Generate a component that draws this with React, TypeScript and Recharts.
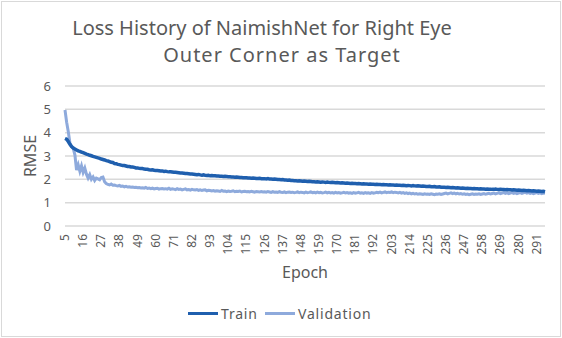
import React from 'react';
import { LineChart, Line, XAxis, YAxis, CartesianGrid } from 'recharts';

document.body.style.margin = '0';

const firstEpoch = 5;
const lastEpoch = 296;
const epochs: number[] = Array.from({ length: lastEpoch - firstEpoch + 1 }, (_, i) => firstEpoch + i);

const trainRmse: number[] = [
  3.75, 3.72, 3.62, 3.50, 3.40, 3.34, 3.30, 3.26, 3.22, 3.20,
  3.17, 3.14, 3.11, 3.08, 3.06, 3.03, 3.01, 2.98, 2.96, 2.94,
  2.92, 2.90, 2.87, 2.85, 2.83, 2.80, 2.79, 2.76, 2.73, 2.72,
  2.68, 2.67, 2.64, 2.63, 2.61, 2.59, 2.59, 2.57, 2.55, 2.55,
  2.53, 2.53, 2.51, 2.49, 2.49, 2.47, 2.46, 2.46, 2.44, 2.43,
  2.43, 2.41, 2.40, 2.41, 2.39, 2.38, 2.38, 2.37, 2.36, 2.36,
  2.34, 2.35, 2.33, 2.32, 2.32, 2.31, 2.30, 2.30, 2.29, 2.28,
  2.27, 2.27, 2.26, 2.25, 2.25, 2.24, 2.23, 2.23, 2.22, 2.21,
  2.20, 2.21, 2.19, 2.18, 2.19, 2.17, 2.16, 2.17, 2.15, 2.16,
  2.15, 2.15, 2.14, 2.14, 2.13, 2.13, 2.12, 2.13, 2.12, 2.11,
  2.11, 2.10, 2.10, 2.09, 2.10, 2.09, 2.08, 2.08, 2.07, 2.07,
  2.07, 2.06, 2.06, 2.05, 2.06, 2.05, 2.04, 2.04, 2.05, 2.03,
  2.03, 2.03, 2.02, 2.03, 2.01, 2.01, 2.00, 2.01, 2.00, 1.99,
  1.99, 1.98, 1.99, 1.97, 1.97, 1.96, 1.97, 1.95, 1.95, 1.94,
  1.94, 1.93, 1.94, 1.93, 1.92, 1.93, 1.92, 1.91, 1.92, 1.91,
  1.90, 1.90, 1.89, 1.90, 1.89, 1.88, 1.89, 1.88, 1.87, 1.88,
  1.87, 1.86, 1.87, 1.86, 1.85, 1.86, 1.85, 1.84, 1.85, 1.84,
  1.83, 1.84, 1.83, 1.82, 1.83, 1.82, 1.82, 1.81, 1.82, 1.81,
  1.80, 1.81, 1.80, 1.80, 1.79, 1.80, 1.79, 1.79, 1.78, 1.79,
  1.78, 1.78, 1.77, 1.78, 1.77, 1.77, 1.76, 1.77, 1.76, 1.76,
  1.75, 1.76, 1.75, 1.75, 1.74, 1.75, 1.74, 1.73, 1.74, 1.73,
  1.72, 1.73, 1.72, 1.71, 1.72, 1.71, 1.70, 1.71, 1.70, 1.69,
  1.69, 1.70, 1.68, 1.68, 1.69, 1.67, 1.67, 1.68, 1.66, 1.66,
  1.66, 1.65, 1.66, 1.65, 1.64, 1.65, 1.64, 1.63, 1.64, 1.63,
  1.62, 1.63, 1.62, 1.61, 1.62, 1.61, 1.61, 1.60, 1.61, 1.60,
  1.60, 1.59, 1.60, 1.59, 1.59, 1.58, 1.59, 1.58, 1.58, 1.57,
  1.57, 1.58, 1.57, 1.56, 1.57, 1.56, 1.56, 1.55, 1.56, 1.55,
  1.55, 1.54, 1.55, 1.54, 1.53, 1.54, 1.53, 1.52, 1.53, 1.52,
  1.51, 1.52, 1.51, 1.50, 1.51, 1.50, 1.49, 1.50, 1.49, 1.48, 1.49, 1.47,
];

const validationRmse: number[] = [
  4.97, 4.45, 4.04, 3.55, 3.40, 3.33, 3.05, 2.40, 2.62, 2.35,
  2.58, 2.30, 2.48, 2.22, 2.05, 2.20, 2.00, 2.10, 1.95, 2.05,
  2.02, 1.98, 2.08, 2.10, 1.90, 1.82, 1.78, 1.76, 1.80, 1.75,
  1.76, 1.73, 1.72, 1.74, 1.70, 1.71, 1.68, 1.70, 1.67, 1.68,
  1.66, 1.67, 1.65, 1.66, 1.64, 1.65, 1.63, 1.64, 1.62, 1.65,
  1.61, 1.63, 1.60, 1.62, 1.59, 1.61, 1.62, 1.58, 1.60, 1.61,
  1.59, 1.60, 1.58, 1.62, 1.57, 1.59, 1.58, 1.56, 1.60, 1.57,
  1.58, 1.55, 1.57, 1.59, 1.55, 1.56, 1.54, 1.57, 1.55, 1.54,
  1.56, 1.53, 1.55, 1.52, 1.54, 1.55, 1.51, 1.53, 1.52, 1.50,
  1.52, 1.49, 1.51, 1.50, 1.48, 1.52, 1.49, 1.50, 1.47, 1.50,
  1.48, 1.49, 1.51, 1.47, 1.49, 1.48, 1.50, 1.46, 1.48, 1.49,
  1.47, 1.48, 1.46, 1.49, 1.47, 1.45, 1.48, 1.47, 1.46, 1.48,
  1.46, 1.47, 1.45, 1.48, 1.46, 1.44, 1.47, 1.45, 1.46, 1.44,
  1.47, 1.45, 1.44, 1.46, 1.43, 1.45, 1.46, 1.44, 1.45, 1.43,
  1.44, 1.46, 1.43, 1.45, 1.44, 1.42, 1.45, 1.43, 1.44, 1.46,
  1.43, 1.44, 1.42, 1.45, 1.43, 1.44, 1.42, 1.43, 1.45, 1.42,
  1.44, 1.42, 1.43, 1.41, 1.44, 1.42, 1.43, 1.41, 1.42, 1.44,
  1.42, 1.43, 1.41, 1.42, 1.40, 1.43, 1.41, 1.42, 1.44, 1.41,
  1.42, 1.40, 1.43, 1.41, 1.42, 1.40, 1.43, 1.41, 1.42, 1.44,
  1.43, 1.45, 1.42, 1.44, 1.46, 1.43, 1.45, 1.44, 1.46, 1.43,
  1.45, 1.44, 1.42, 1.44, 1.41, 1.43, 1.40, 1.42, 1.39, 1.41,
  1.38, 1.40, 1.37, 1.39, 1.36, 1.38, 1.37, 1.35, 1.38, 1.36,
  1.37, 1.35, 1.38, 1.36, 1.34, 1.37, 1.36, 1.38, 1.35, 1.37,
  1.39, 1.41, 1.38, 1.40, 1.42, 1.39, 1.41, 1.38, 1.40, 1.37,
  1.39, 1.36, 1.38, 1.35, 1.37, 1.34, 1.36, 1.38, 1.35, 1.37,
  1.36, 1.38, 1.35, 1.37, 1.39, 1.36, 1.38, 1.40, 1.37, 1.39,
  1.41, 1.38, 1.40, 1.42, 1.39, 1.41, 1.43, 1.40, 1.42, 1.39,
  1.41, 1.43, 1.40, 1.42, 1.39, 1.41, 1.43, 1.40, 1.42, 1.44,
  1.41, 1.43, 1.40, 1.42, 1.39, 1.41, 1.43, 1.40, 1.42, 1.39, 1.41, 1.40,
];

const yTicks = [0, 1, 2, 3, 4, 5, 6];

const data = epochs.map((epoch, i) => ({
  epoch,
  Train: trainRmse[i],
  Validation: validationRmse[i],
}));

const FONT = '"Noto Sans", sans-serif';
const TEXT = '#595959';
const TRAIN_COLOR = '#1f5fae';
const VAL_COLOR = '#8eaadc';

const EpochTick = (props: any) => {
  const { x, y, payload } = props;
  return (
    <text
      x={x}
      y={y}
      transform={`rotate(-90 ${x} ${y})`}
      dx={-6}
      dy={4}
      textAnchor="end"
      fill={TEXT}
      fontSize={12}
      fontFamily={FONT}
    >
      {payload.value}
    </text>
  );
};

const legendItems = [
  { name: 'Train', color: TRAIN_COLOR, left: 188 },
  { name: 'Validation', color: VAL_COLOR, left: 265 },
];

export default function App() {
  return (
    <div style={{ position: 'relative', width: 562, height: 338, background: '#fff' }}>
      <div
        style={{
          position: 'absolute',
          left: 1,
          top: 1,
          width: 560,
          height: 336,
          border: '1px solid #d9d9d9',
          boxSizing: 'border-box',
        }}
      />
      <div
        style={{
          position: 'absolute',
          left: 0,
          top: 14,
          width: 524,
          textAlign: 'center',
          fontFamily: FONT,
          fontSize: 20,
          lineHeight: '27px',
          color: TEXT,
        }}
      >
        Loss History of NaimishNet for Right Eye
      </div>
      <div
        style={{
          position: 'absolute',
          left: 0,
          top: 41,
          width: 564,
          textAlign: 'center',
          fontFamily: FONT,
          fontSize: 20,
          letterSpacing: 1,
          lineHeight: '27px',
          color: TEXT,
        }}
      >
        Outer Corner as Target
      </div>
      <LineChart
        width={562}
        height={338}
        data={data}
        margin={{ top: 86, right: 17, bottom: 52, left: 0 }}
        style={{ position: 'absolute', left: 0, top: 0 }}
      >
        <CartesianGrid vertical={false} stroke="#d9d9d9" strokeWidth={1.5} />
        <XAxis
          dataKey="epoch"
          interval={10}
          axisLine={false}
          tickLine={false}
          tickSize={0}
          tick={<EpochTick />}
          height={60}
          label={(p: any) => (
            <text x={305} y={278} textAnchor="middle" fill={TEXT} fontSize={16} fontFamily={FONT}>
              Epoch
            </text>
          )}
        />
        <YAxis
          domain={[0, 6]}
          ticks={yTicks}
          width={65}
          axisLine={false}
          tickLine={false}
          tickSize={0}
          tickMargin={14}
          tick={{ fill: TEXT, fontSize: 13, fontFamily: FONT }}
          label={(p: any) => (
            <text
              x={30}
              y={156}
              transform="rotate(-90 30 156)"
              textAnchor="middle"
              dominantBaseline="central"
              fill={TEXT}
              fontSize={16}
              fontFamily={FONT}
            >
              RMSE
            </text>
          )}
        />
        <Line
          type="linear"
          dataKey="Validation"
          stroke={VAL_COLOR}
          strokeWidth={3}
          dot={false}
          isAnimationActive={false}
        />
        <Line
          type="linear"
          dataKey="Train"
          stroke={TRAIN_COLOR}
          strokeWidth={3.5}
          dot={false}
          isAnimationActive={false}
        />
      </LineChart>
      {legendItems.map((s) => (
        <div
          key={s.name}
          style={{
            position: 'absolute',
            left: s.left,
            top: 304,
            height: 18,
            display: 'flex',
            alignItems: 'center',
            fontFamily: FONT,
            fontSize: 14,
            letterSpacing: 0.8,
            color: TEXT,
          }}
        >
          <span style={{ display: 'inline-block', width: 30, height: 3, background: s.color, marginRight: 3 }} />
          <span>{s.name}</span>
        </div>
      ))}
    </div>
  );
}
